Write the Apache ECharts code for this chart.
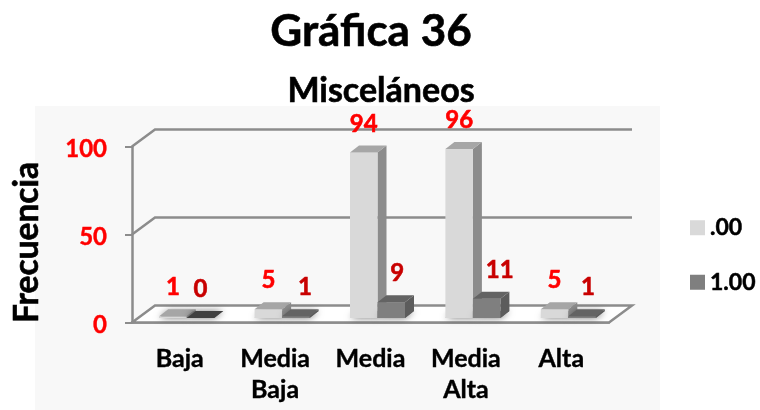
<!DOCTYPE html>
<html><head><meta charset="utf-8">
<style>html,body{margin:0;padding:0;background:#fff}#c{width:760px;height:410px}</style>
<script src="https://cdn.jsdelivr.net/npm/echarts@6/dist/echarts.min.js"></script>
</head><body><div id="c"></div>
<script>
const categories = ['Baja', 'Media\nBaja', 'Media', 'Media\nAlta', 'Alta'];
const seriesNames = ['.00', '1.00'];
const values00 = [1, 5, 94, 96, 5];
const values100 = [0, 1, 9, 11, 1];
const yTicks = [0, 50, 100];

const FONT = 'Lato, "Open Sans", sans-serif';
const RED = '#ff0000', DARKRED = '#c80000', GRID = '#8c8c8c';
const WALL = {dx: 23, dy: -17};          // chart depth
const BAR = {w: 27.5, dx: 9, dy: -7, shiftX: 7, shiftY: -4.5};
const nudge = [[0, 0, 0, 0, 0], [0, 9, 6, 13, 6]];   // label fine-tuning, px

const skins = [
  {front: '#d9d9d9', side: '#8c8c8c', top: '#a6a6a6', flat: '#a6a6a6', label: RED},
  {front: '#7f7f7f', side: '#5c5c5c', top: '#636363', flat: '#404040', label: DARKRED}
];

function bold(color, w) { return {textBorderColor: color, textBorderWidth: w}; }

function poly(points, fill, extra) {
  return {type: 'polygon', shape: {points}, style: Object.assign({fill}, extra || {})};
}

function barRenderer(idx) {
  return function (params, api) {
    const skin = skins[idx];
    const v = api.value(1);
    const base = api.coord([api.value(0), 0]);
    const top = api.coord([api.value(0), v]);
    const x0 = base[0] + BAR.shiftX + (idx === 0 ? -BAR.w : 0);
    const x1 = x0 + BAR.w;
    const yb = base[1] + BAR.shiftY, yt = top[1] + BAR.shiftY;
    const d = BAR;
    const shadow = poly(
      [[x0, yb], [x1, yb], [x1 + d.dx, yb + d.dy], [x0 + d.dx, yb + d.dy]],
      '#666', {shadowBlur: 7, shadowColor: 'rgba(0,0,0,0.55)'});
    const side = poly([[x1, yb], [x1 + d.dx, yb + d.dy], [x1 + d.dx, yt + d.dy], [x1, yt]], skin.side);
    const front = {type: 'rect', shape: {x: x0, y: yt, width: BAR.w, height: yb - yt},
      style: {fill: skin.front}};
    const lid = poly([[x0, yt], [x1, yt], [x1 + d.dx, yt + d.dy], [x0 + d.dx, yt + d.dy]],
      v === 0 ? skin.flat : skin.top);
    const label = {type: 'text', z2: 10, style: {
      text: String(v), x: (x0 + x1) / 2 + nudge[idx][params.dataIndex], y: yt - 28.5,
      align: 'center', verticalAlign: 'middle',
      font: 'bold 24px ' + FONT, fill: skin.label, stroke: skin.label, lineWidth: 0.6}};
    return {type: 'group', children: [shadow, side, front, lid, label]};
  };
}

function wallRenderer(params, api) {
  const v = api.value(1);
  const cs = params.coordSys;
  const y = api.coord([0, v])[1];
  const xl = cs.x, xr = cs.x + cs.width;
  const lineStyle = {fill: 'none', stroke: GRID, lineWidth: 2.5};
  if (v === 0) {
    return poly([[xl, y], [xl + WALL.dx, y + WALL.dy], [xr + WALL.dx, y + WALL.dy], [xr, y]],
      '#ffffff', {stroke: GRID, lineWidth: 2.5});
  }
  return {type: 'polyline', shape: {points: [[xl, y], [xl + WALL.dx, y + WALL.dy], [xr + WALL.dx, y + WALL.dy]]},
    style: lineStyle};
}

const chart = echarts.init(document.getElementById('c'), null, {renderer: 'canvas'});
chart.setOption({
  animation: false,
  backgroundColor: '#ffffff',
  graphic: [{type: 'rect', silent: true, z: -10, shape: {x: 35, y: 106, width: 625, height: 304},
    style: {fill: '#f8f8f8'}}],
  title: [
    {text: 'Gráfica 36', left: 366, top: 27, textAlign: 'center', textVerticalAlign: 'middle',
      textStyle: Object.assign({fontFamily: FONT, fontWeight: 'bold', fontSize: 44, color: '#000'}, bold('#000', 0.6))},
    {text: 'Misceláneos', left: 376, top: 86, textAlign: 'center', textVerticalAlign: 'middle',
      textStyle: Object.assign({fontFamily: FONT, fontWeight: 'bold', fontSize: 34, color: '#000'}, bold('#000', 0.6))}
  ],
  legend: {
    orient: 'vertical', left: 690, top: 216, padding: 0, itemWidth: 15, itemHeight: 15, itemGap: 31,
    icon: 'rect', data: seriesNames, selectedMode: false,
    textStyle: Object.assign({fontFamily: FONT, fontWeight: 'bold', fontSize: 23, color: '#000'}, bold('#000', 0.5))
  },
  grid: {left: 132, right: 151, top: 146.5, bottom: 87.5, containLabel: false},
  xAxis: {
    type: 'category', data: categories,
    axisLine: {show: true, lineStyle: {color: GRID, width: 2.5}},
    axisTick: {show: false},
    axisLabel: Object.assign({interval: 0, margin: 21, fontFamily: FONT, fontWeight: 'bold', fontSize: 25,
      lineHeight: 31, color: '#000'}, bold('#000', 0.4))
  },
  yAxis: {
    type: 'value', min: 0, max: 100, interval: 50,
    name: 'Frecuencia', nameLocation: 'middle', nameRotate: 90, nameGap: 88,
    nameTextStyle: Object.assign({fontFamily: FONT, fontWeight: 'bold', fontSize: 33.5, color: '#000',
      padding: [0, 16, 0, 0]}, bold('#000', 0.6)),
    axisLine: {show: true, lineStyle: {color: GRID, width: 2.5}},
    axisTick: {show: true, length: 7, lineStyle: {color: GRID, width: 2}},
    splitLine: {show: false},
    axisLabel: Object.assign({margin: 25, fontFamily: FONT, fontWeight: 'bold', fontSize: 24, color: RED,
      verticalAlign: 'top', lineHeight: 5}, bold(RED, 0.4))
  },
  series: [
    {type: 'custom', name: 'walls', silent: true, clip: false, z: 1,
      data: yTicks.map(v => [0, v]), encode: {x: 0, y: 1}, renderItem: wallRenderer},
    {type: 'custom', name: seriesNames[0], clip: false, z: 2, itemStyle: {color: skins[0].front},
      data: values00.map((v, i) => [i, v]), encode: {x: 0, y: 1}, renderItem: barRenderer(0)},
    {type: 'custom', name: seriesNames[1], clip: false, z: 3, itemStyle: {color: skins[1].front},
      data: values100.map((v, i) => [i, v]), encode: {x: 0, y: 1}, renderItem: barRenderer(1)}
  ]
});
</script></body></html>
